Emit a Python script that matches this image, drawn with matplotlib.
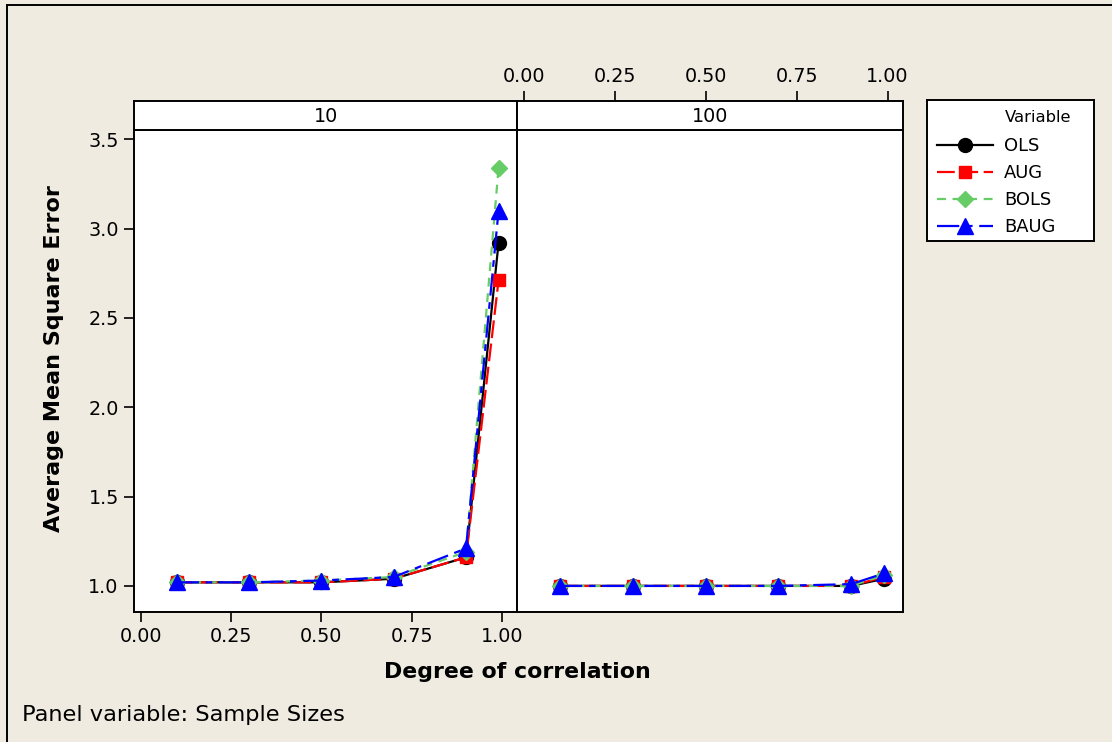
import matplotlib.pyplot as plt
from matplotlib.lines import Line2D
import numpy as np

# degree of correlation
rho = [0.1, 0.3, 0.5, 0.7, 0.9, 0.99]

# sample size 10
ols_10 = [1.02, 1.02, 1.02, 1.04, 1.16, 2.92]
aug_10 = [1.02, 1.02, 1.02, 1.04, 1.16, 2.71]
bols_10 = [1.02, 1.02, 1.03, 1.05, 1.19, 3.34]
baug_10 = [1.02, 1.02, 1.03, 1.05, 1.21, 3.10]

# sample size 100
ols_100 = [1.00, 1.00, 1.00, 1.00, 1.00, 1.04]
aug_100 = [1.00, 1.00, 1.00, 1.00, 1.00, 1.05]
bols_100 = [1.00, 1.00, 1.00, 1.00, 1.00, 1.06]
baug_100 = [1.00, 1.00, 1.00, 1.00, 1.01, 1.07]

panels = ["10", "100"]
variables = ["OLS", "AUG", "BOLS", "BAUG"]
xticks = [0.0, 0.25, 0.5, 0.75, 1.0]
yticks = [1.0, 1.5, 2.0, 2.5, 3.0, 3.5]

styles = {
    "OLS": dict(color="black", ls="-", marker="o", ms=10),
    "AUG": dict(color="#FF0000", ls=(0, (8, 2.5)), marker="s", ms=9),
    "BOLS": dict(color="#66CC66", ls=(0, (4, 3)), marker="D", ms=8.5),
    "BAUG": dict(color="#0000FF", ls=(0, (10, 3, 3, 3)), marker="^", ms=11),
}

bg = "#EFEBE1"
W, H = 1112, 742
fig = plt.figure(figsize=(W / 100, H / 100), dpi=100, facecolor=bg)
plt.rcParams['font.family'] = ['DejaVu Sans']


def box(x0, y0, x1, y1):
    # pixel box (top-left origin) -> figure fraction rect
    return [x0 / W, 1 - y1 / H, (x1 - x0) / W, (y1 - y0) / H]


xlim = (-0.018, 1.041)
ylim = (0.854, 3.552)
edges = [(134, 517), (517, 902.5)]
data = {
    "10": [ols_10, aug_10, bols_10, baug_10],
    "100": [ols_100, aug_100, bols_100, baug_100],
}

for i, p in enumerate(panels):
    x0, x1 = edges[i]
    ax = fig.add_axes(box(x0, 130, x1, 612))
    for v, ys in zip(variables, data[p]):
        st = styles[v]
        ax.plot(rho, ys, color=st["color"], ls=st["ls"], lw=1.6,
                marker=st["marker"], ms=st["ms"], mec=st["color"],
                mfc=st["color"], zorder=3)
    ax.set_xlim(xlim)
    ax.set_ylim(ylim)
    for s in ax.spines.values():
        s.set_linewidth(1.4)
    ax.tick_params(direction="out", length=7, width=1.2, labelsize=13.8, pad=4)
    if i == 0:
        ax.set_xticks(xticks)
        ax.set_xticklabels(["%.2f" % t for t in xticks])
        ax.set_yticks(yticks)
        ax.set_yticklabels(["%.1f" % t for t in yticks])
    else:
        ax.set_xticks([])
        ax.set_yticks([])

    sx = fig.add_axes(box(x0, 101, x1, 130))
    sx.set_xlim(xlim)
    sx.set_yticks([])
    sx.text(0.5, 0.45, p, transform=sx.transAxes, ha="center", va="center",
            fontsize=13.8)
    for s in sx.spines.values():
        s.set_linewidth(1.4)
    if i == 1:
        sx.xaxis.tick_top()
        sx.set_xticks(xticks)
        sx.set_xticklabels(["%.2f" % t for t in xticks])
        sx.tick_params(direction="out", length=7, width=1.2, labelsize=13.8, pad=4)
    else:
        sx.set_xticks([])

fig.text(54 / W, 1 - 359 / H, "Average Mean Square Error", rotation=90,
         ha="center", va="center", fontsize=16, fontweight="bold")
fig.text(517 / W, 1 - 672 / H, "Degree of correlation", ha="center",
         va="center", fontsize=15.8, fontweight="bold")
fig.text(22 / W, 1 - 715 / H, "Panel variable: Sample Sizes", ha="left",
         va="center", fontsize=16.2)

# legend box drawn by hand
lg = fig.add_axes(box(927, 100, 1094, 240.5))
lg.set_xlim(927, 1094)
lg.set_ylim(240.5, 100)
lg.set_xticks([])
lg.set_yticks([])
for s in lg.spines.values():
    s.set_linewidth(1.4)
lg.text(1005, 118, "Variable", ha="left", va="center", fontsize=11.8)
for k, v in enumerate(variables):
    st = styles[v]
    yy = 145 + 27 * k
    lg.add_line(Line2D([937, 993], [yy, yy], color=st["color"], ls=st["ls"],
                       lw=1.6))
    lg.plot([965], [yy], marker=st["marker"], ms=st["ms"], color=st["color"],
            ls="none")
    lg.text(1004, yy + 1, v, ha="left", va="center", fontsize=12.9)

# frame lines (top and left only)
fig.add_artist(Line2D([6.7 / W, 6.7 / W], [0, 1 - 5 / H], color="black",
                      lw=1.4, transform=fig.transFigure))
fig.add_artist(Line2D([6.7 / W, 1], [1 - 5 / H, 1 - 5 / H], color="black",
                      lw=1.4, transform=fig.transFigure))

fig.savefig("out.png", dpi=100, facecolor=bg)
plt.close(fig)
